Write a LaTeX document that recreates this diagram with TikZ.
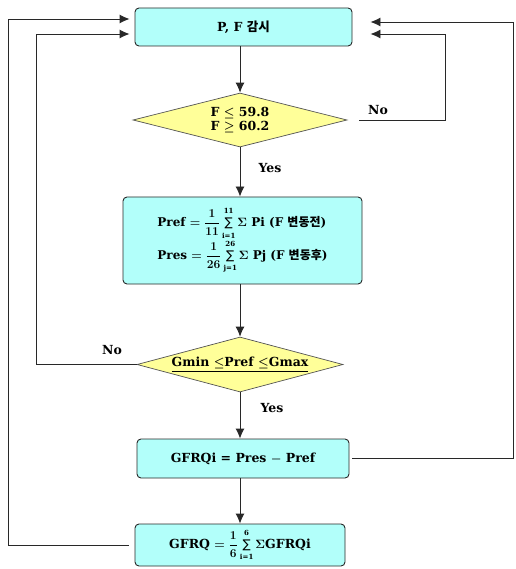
\documentclass[tikz,border=0pt]{standalone}
\usepackage{amsmath}
\usepackage{fontspec}
\setmainfont{DejaVu Serif}
\newfontfamily\kr{Noto Sans CJK KR}
\newfontfamily\dvs{DejaVu Sans}
\usetikzlibrary{shapes.geometric,arrows.meta}
\definecolor{boxc}{RGB}{178,255,250}
\definecolor{diac}{RGB}{255,255,153}
\definecolor{linec}{RGB}{40,40,40}
\newcommand{\stsum}[2]{$\vcenter{\hbox{\shortstack{{\fontsize{7}{7}\selectfont #2}\\[1pt]{\dvs\mdseries\fontsize{12}{12}\selectfont ∑}\\[1pt]{\fontsize{7}{7}\selectfont #1}}}}$}
\begin{document}
\begin{tikzpicture}[x=1pt,y=-1pt,
  font=\fontsize{12.5}{14}\selectfont\bfseries\boldmath,
  stepbox/.style={draw=linec, fill=boxc, rounded corners=4pt, line width=0.9pt,
    rectangle, inner sep=0pt, align=center},
  decision/.style={draw=linec!80, fill=diac, diamond, aspect=4, inner sep=0pt,
    line width=0.7pt, align=center},
  arr/.style={draw=linec, line width=0.9pt, -{Latex[length=10pt,width=9pt]}},
  lab/.style={inner sep=1pt}]
\useasboundingbox (0,0) rectangle (515,569);

\node[stepbox, minimum width=217pt, minimum height=38pt] (b1) at (243.5,27) {P, F {\kr 감시}};
\node[decision, minimum width=214pt, minimum height=54pt] (d1) at (240,120)
  {F $\le$ 59.8\\F $\ge$ 60.2};
\node[stepbox, minimum width=239pt, minimum height=87pt, align=left,
  font=\fontsize{12}{13}\selectfont\bfseries\boldmath] (b2) at (242.5,240.5)
  {Pref $= \dfrac{1}{11}$\,\stsum{i=1}{11}\,$\Sigma$ Pi (F {\kr 변동전})\\[2pt]
   Pres $= \dfrac{1}{26}$\,\stsum{j=1}{26}\,$\Sigma$ Pj (F {\kr 변동후})};
\node[decision, minimum width=206pt, minimum height=55pt] (d2) at (240,364.5)
  {\underline{Gmin $\le$Pref $\le$Gmax}};
\node[stepbox, minimum width=212pt, minimum height=39pt] (b3) at (243,458.5)
  {GFRQi = Pres $-$ Pref};
\node[stepbox, minimum width=210pt, minimum height=42pt] (b4) at (240,545)
  {GFRQ $= \dfrac{1}{6}$\,\stsum{i=1}{6}\,$\Sigma$GFRQi};

% main flow
\draw[arr] (d1.north |- b1.south) -- (d1.north);
\draw[arr] (d1.south) -- (d1.south |- b2.north);
\draw[arr] (d2.north |- b2.south) -- (d2.north);
\draw[arr] (d2.south) -- (d2.south |- b3.north);
\draw[arr] (b4.north |- b3.south) -- (b4.north);

% loops
\draw[arr] ([xshift=12pt]d1.east) -- (445,0 |- d1.east) -- (445,34) -- ([shift={(18,7)}]b1.east);
\draw[arr] ([xshift=3pt]b3.east) -- (513,0 |- b3.east) -- (513,22) -- ([shift={(18,-5)}]b1.east);
\draw[arr] (d2.west) -- (36,0 |- d2.west) -- (36,34) -- ([shift={(-5,7)}]b1.west);
\draw[arr] ([xshift=-6pt]b4.west) -- (8,0 |- b4.west) -- (8,19) -- ([shift={(-5,-8)}]b1.west);

% labels
\node[lab] (no1) at (378,110) {No};
\node[lab] (yes1) at (270,168) {Yes};
\node[lab] (no2) at (112,350) {No};
\node[lab] (yes2) at (272,408) {Yes};
\end{tikzpicture}
\end{document}
